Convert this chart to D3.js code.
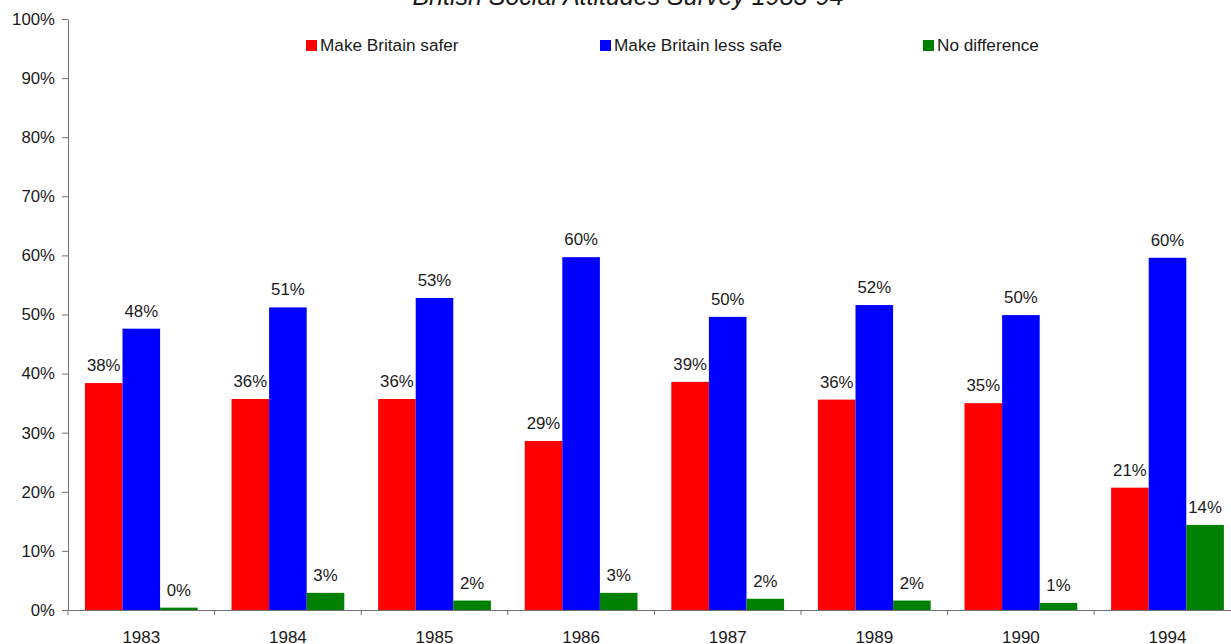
<!DOCTYPE html>
<html>
<head>
<meta charset="utf-8">
<script src="https://d3js.org/d3.v7.min.js"></script>
<style>
body {
  margin: 0;
  background-color: #ffffff;
}
svg text {
  font-family: "Liberation Sans", Arial, sans-serif;
  fill: #1a1a1a;
}
.axis path, .axis line {
  stroke: #707070;
}
</style>
</head>
<body>
<div id="chart"></div>
<script>
// data (percent)
var years = ["1983", "1984", "1985", "1986", "1987", "1989", "1990", "1994"];
var seriesNames = ["Make Britain safer", "Make Britain less safe", "No difference"];
var safer     = [38.4, 35.7, 35.7, 28.6, 38.6, 35.6, 35.0, 20.7];
var lessSafe  = [47.6, 51.2, 52.8, 59.7, 49.6, 51.6, 49.9, 59.6];
var noDiff    = [0.4, 2.9, 1.6, 2.9, 1.9, 1.6, 1.2, 14.4];
var yTicks = [0, 10, 20, 30, 40, 50, 60, 70, 80, 90, 100];
var colors = ["#ff0000", "#0000ff", "#008000"];

var seriesValues = [safer, lessSafe, noDiff];

var W = 1231, H = 644;
var plotLeft = 68, plotBottom = 610, plotTop = 19;
var step = 146.6;

var svg = d3.select("#chart").append("svg")
    .attr("width", W)
    .attr("height", H);

// title (partly cut off at the top of the frame)
svg.append("text")
    .attr("x", 628)
    .attr("y", 5)
    .attr("text-anchor", "middle")
    .style("font-size", "25px")
    .style("font-style", "italic")
    .text("British Social Attitudes Survey 1983-94");

// scales
var x0 = d3.scaleBand()
    .domain(years)
    .range([plotLeft, plotLeft + step * years.length])
    .padding(0);

var x1 = d3.scaleBand()
    .domain(seriesNames)
    .range([0, x0.bandwidth()])
    .paddingInner(0)
    .paddingOuter(0.45);

var y = d3.scaleLinear()
    .domain([0, 100])
    .range([plotBottom, plotTop]);

// y axis
svg.append("g")
    .attr("class", "axis")
    .attr("transform", "translate(" + plotLeft + ",0)")
    .call(d3.axisLeft(y).tickValues(yTicks).tickFormat(function(d) { return d + "%"; })
          .tickSizeInner(6).tickSizeOuter(0).tickPadding(7))
    .selectAll("text")
    .style("font-size", "16.8px");

// bars
var rows = years.map(function(yr, i) {
  return { year: yr, vals: seriesNames.map(function(s, j) { return { name: s, idx: j, v: seriesValues[j][i] }; }) };
});

var groups = svg.selectAll(".grp")
  .data(rows)
  .enter()
  .append("g")
  .attr("class", "grp")
  .attr("transform", function(d) { return "translate(" + x0(d.year) + ",0)"; });

groups.selectAll("rect")
  .data(function(d) { return d.vals; })
  .enter()
  .append("rect")
    .attr("x", function(d) { return x1(d.name); })
    .attr("width", x1.bandwidth())
    .attr("y", function(d) { return y(d.v); })
    .attr("height", function(d) { return plotBottom - y(d.v); })
    .attr("fill", function(d) { return colors[d.idx]; });

groups.selectAll(".lbl")
  .data(function(d) { return d.vals; })
  .enter()
  .append("text")
    .attr("class", "lbl")
    .attr("x", function(d) { return x1(d.name) + x1.bandwidth() / 2; })
    .attr("y", function(d) { return y(d.v) - 12; })
    .attr("text-anchor", "middle")
    .style("font-size", "16.8px")
    .text(function(d) { return Math.round(d.v) + "%"; });

// x axis
var xAxis = svg.append("g")
    .attr("class", "axis")
    .attr("transform", "translate(0," + plotBottom + ")")
    .call(d3.axisBottom(x0).tickSizeInner(0).tickSizeOuter(0).tickPadding(21));
xAxis.selectAll("text").style("font-size", "17px");

// category boundary ticks
xAxis.selectAll(".bt")
  .data(years)
  .enter()
  .append("line")
    .attr("class", "bt")
    .attr("x1", function(d) { return x0(d); })
    .attr("x2", function(d) { return x0(d); })
    .attr("y1", 0)
    .attr("y2", 5)
    .attr("stroke", "#707070");

// legend
var legendX = [306, 600, 923];
var legend = svg.selectAll(".leg")
  .data(seriesNames)
  .enter()
  .append("g")
  .attr("class", "leg")
  .attr("transform", function(d, i) { return "translate(" + legendX[i] + ",40)"; });

legend.append("rect")
  .attr("width", 11)
  .attr("height", 11)
  .attr("fill", function(d, i) { return colors[i]; });

legend.append("text")
  .attr("x", 14)
  .attr("y", 11)
  .style("font-size", "17.2px")
  .text(function(d) { return d; });
</script>
</body>
</html>
